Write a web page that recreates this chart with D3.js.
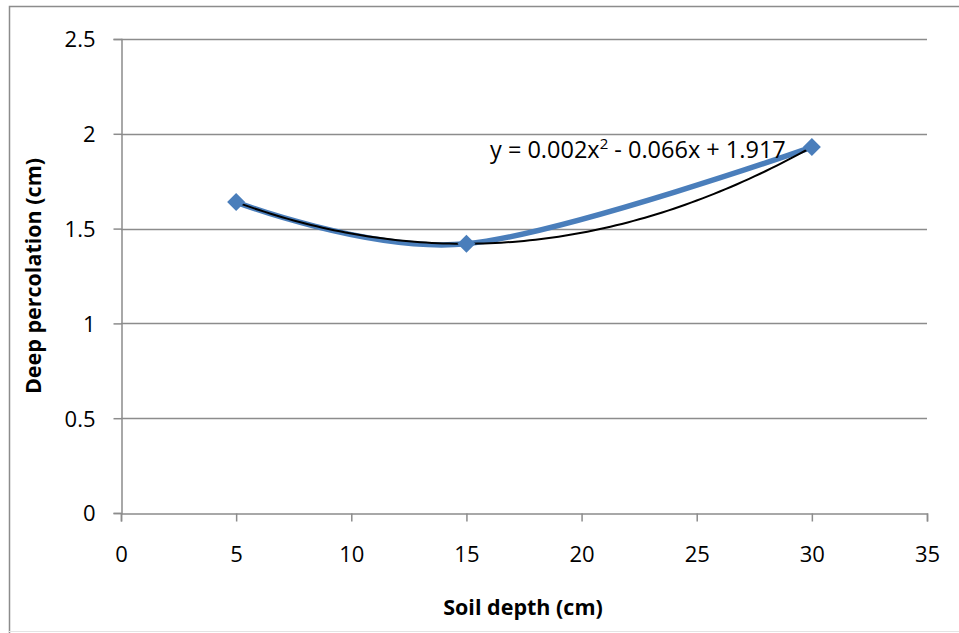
<!DOCTYPE html>
<html>
<head>
<meta charset="utf-8">
<script src="https://cdn.jsdelivr.net/npm/d3@7"></script>
<style>
  body { margin: 0; background: #fff; }
  text { font-family: "Open Sans", sans-serif; fill: #000; }
</style>
</head>
<body>
<div id="chart"></div>
<script>
const depths = [5, 15, 30];
const percolation = [1.64, 1.42, 1.93];
const xTicks = [0, 5, 10, 15, 20, 25, 30, 35];
const yTicks = [0, 0.5, 1, 1.5, 2, 2.5];
const equationLabel = ["y = 0.002x", "2", " - 0.066x + 1.917"];

const width = 959;
const height = 633;
const margin = { top: 39, right: 32, bottom: 120, left: 121 };
const gray = "#8c8c8c";
const blue = "#4a7ebb";

const data = depths.map((d, i) => ({ x: d, y: percolation[i] }));

const xScale = d3.scaleLinear()
  .domain([0, 35])
  .range([margin.left, width - margin.right]);

const yScale = d3.scaleLinear()
  .domain([0, 2.5])
  .range([height - margin.bottom, margin.top]);

const svg = d3.select("#chart")
  .append("svg")
  .attr("width", width)
  .attr("height", height);

// outer chart frame (left, top, faint bottom)
svg.append("path")
  .attr("d", `M9.5,${height}V6.5H${width}`)
  .attr("fill", "none")
  .attr("stroke", gray)
  .attr("stroke-width", 1.5);
svg.append("line")
  .attr("x1", 9).attr("x2", width)
  .attr("y1", 631.5).attr("y2", 631.5)
  .attr("stroke", "#e4e4e4");

// horizontal gridlines
svg.selectAll(".grid")
  .data(yTicks.filter((d) => d > 0))
  .join("line")
  .attr("class", "grid")
  .attr("x1", margin.left)
  .attr("x2", width - margin.right)
  .attr("y1", (d) => Math.round(yScale(d)) + 0.5)
  .attr("y2", (d) => Math.round(yScale(d)) + 0.5)
  .attr("stroke", gray)
  .attr("stroke-width", 1.5);

const xAxis = svg.append("g")
  .attr("transform", `translate(0, ${Math.round(yScale(0)) + 0.5})`)
  .call(d3.axisBottom(xScale).tickValues(xTicks).tickSize(8).tickPadding(25)
    .tickFormat(d3.format("d")));

const yAxis = svg.append("g")
  .attr("transform", `translate(${margin.left + 0.5}, 0)`)
  .call(d3.axisLeft(yScale).tickValues(yTicks).tickSize(8).tickPadding(18)
    .tickFormat((d) => String(d)));

[xAxis, yAxis].forEach((g) => {
  g.select(".domain").attr("stroke", gray).attr("stroke-width", 1.5);
  g.selectAll(".tick line").attr("stroke", gray).attr("stroke-width", 1.5);
  g.selectAll(".tick text")
    .style("font-family", "'Open Sans', sans-serif")
    .style("font-size", "22px")
    .attr("fill", "#000");
});
yAxis.selectAll(".tick text").attr("dy", "0.36em");

// series line, smoothed
const lineGenerator = d3.line()
  .x((d) => xScale(d.x))
  .y((d) => yScale(d.y))
  .curve(d3.curveCatmullRom.alpha(0));

svg.append("path")
  .datum(data)
  .attr("fill", "none")
  .attr("stroke", blue)
  .attr("stroke-width", 5.5)
  .attr("stroke-linejoin", "round")
  .attr("d", lineGenerator);

// polynomial (order 2) trendline fitted through the data
const fitQuadratic = (pts) => {
  const [p0, p1, p2] = pts;
  const d01 = (p1.y - p0.y) / (p1.x - p0.x);
  const d12 = (p2.y - p1.y) / (p2.x - p1.x);
  const a = (d12 - d01) / (p2.x - p0.x);
  return (x) => p0.y + d01 * (x - p0.x) + a * (x - p0.x) * (x - p1.x);
};
const trend = fitQuadratic(data);
const trendPoints = d3.range(depths[0], depths[2] + 0.01, 0.25)
  .map((x) => ({ x, y: trend(x) }));

svg.append("path")
  .datum(trendPoints)
  .attr("fill", "none")
  .attr("stroke", "#000")
  .attr("stroke-width", 2)
  .attr("d", d3.line().x((d) => xScale(d.x)).y((d) => yScale(d.y)));

// diamond markers
svg.selectAll(".marker")
  .data(data)
  .join("path")
  .attr("class", "marker")
  .attr("transform", (d) => `translate(${xScale(d.x)}, ${yScale(d.y)})`)
  .attr("d", "M0,-9L9,0L0,9L-9,0Z")
  .attr("fill", blue);

// equation label
const eq = svg.append("text")
  .attr("x", 490)
  .attr("y", 158)
  .style("font-size", "23.5px");
eq.append("tspan").text(equationLabel[0]);
eq.append("tspan").attr("dy", -9).style("font-size", "15px").text(equationLabel[1]);
eq.append("tspan").attr("dy", 9).text(equationLabel[2]);

// axis titles
svg.append("text")
  .attr("x", 523)
  .attr("y", 615)
  .attr("text-anchor", "middle")
  .style("font-size", "21.5px")
  .style("font-weight", "bold")
  .text("Soil depth (cm)");

svg.append("text")
  .attr("transform", "rotate(-90)")
  .attr("x", -(margin.top + yScale(0)) / 2)
  .attr("y", 41)
  .attr("text-anchor", "middle")
  .style("font-size", "21.5px")
  .style("font-weight", "bold")
  .text("Deep percolation (cm)");
</script>
</body>
</html>
